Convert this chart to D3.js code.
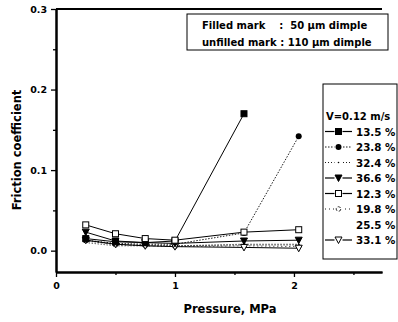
<!DOCTYPE html>
<html>
<head>
<meta charset="utf-8">
<script src="https://cdn.jsdelivr.net/npm/d3@7"></script>
<style>
  body { margin: 0; background: #fff; }
  svg { font-family: "DejaVu Sans", sans-serif; font-weight: bold; }
</style>
</head>
<body>
<div id="chart"></div>
<script>
// Pressure values (MPa)
var pressure = [0.25, 0.5, 0.75, 1.0, 1.58, 2.04];

// Friction coefficient per dimple density series
var s135 = [0.015, 0.011, 0.010, 0.012, 0.170];
var s238 = [0.013, 0.009, 0.008, 0.008, 0.022, 0.142];
var s324 = [0.012, 0.008, 0.007, 0.006, 0.008, 0.008];
var s366 = [0.023, 0.012, 0.010, 0.009, 0.012, 0.013];
var s123 = [0.032, 0.021, 0.015, 0.013, 0.023, 0.026];
var s198 = [0.013, 0.007, 0.006, 0.005, 0.006, 0.005];
var s255 = [0.010, 0.006, 0.006, 0.006, 0.007, 0.007];
var s331 = [0.013, 0.008, 0.006, 0.005, 0.004, 0.003];

var seriesNames = ["13.5 %", "23.8 %", "32.4 %", "36.6 %", "12.3 %", "19.8 %", "25.5 %", "33.1 %"];
var seriesValues = [s135, s238, s324, s366, s123, s198, s255, s331];

var xTicks = [0, 1, 2];
var yTicks = [0.0, 0.1, 0.2, 0.3];

// styles: marker type, dash
var styles = [
  {m: "sq", fill: true,  dash: null},
  {m: "ci", fill: true,  dash: "1.5,1.5"},
  {m: "dot", fill: true, dash: "1,2"},
  {m: "tri", fill: true, dash: null},
  {m: "sq", fill: false, dash: null},
  {m: "oc", fill: false, dash: "1,3"},
  {m: "none", fill: false, dash: "1,2"},
  {m: "tri", fill: false, dash: null}
];

var width = 398, height = 322;

var svg = d3.select("#chart").append("svg")
    .attr("width", width)
    .attr("height", height);

var x = d3.scaleLinear().domain([0, 2.74]).range([56, 382]);
var y = d3.scaleLinear().domain([-0.0265, 0.3]).range([272, 9]);

// axes
var xAxis = svg.append("g")
    .attr("transform", "translate(0," + y.range()[0] + ")")
    .call(d3.axisBottom(x).tickValues(xTicks).tickFormat(d3.format("d")).tickSize(5).tickSizeOuter(0));
svg.append("g")
    .attr("transform", "translate(0," + y.range()[0] + ")")
    .call(d3.axisBottom(x).tickValues([0.5, 1.5, 2.5]).tickFormat("").tickSize(3).tickSizeOuter(0));

var yAxis = svg.append("g")
    .attr("transform", "translate(" + x.range()[0] + ",0)")
    .call(d3.axisLeft(y).tickValues(yTicks).tickFormat(d3.format(".1f")).tickSize(5).tickSizeOuter(0));
svg.append("g")
    .attr("transform", "translate(" + x.range()[0] + ",0)")
    .call(d3.axisLeft(y).tickValues([0.05, 0.15, 0.25]).tickFormat("").tickSize(3).tickSizeOuter(0));

svg.selectAll(".domain").attr("stroke-width", 2);
svg.selectAll(".tick line").attr("stroke-width", 1.3);
xAxis.selectAll("text").attr("font-size", 9.5).attr("font-weight", "bold").attr("font-family", "DejaVu Sans").attr("dy", "0.9em");
yAxis.selectAll("text").attr("font-size", 9.5).attr("font-weight", "bold").attr("font-family", "DejaVu Sans").attr("dx", "-1px");

// top frame line
svg.append("line")
    .attr("x1", x.range()[0]).attr("x2", x.range()[1])
    .attr("y1", y.range()[1]).attr("y2", y.range()[1])
    .attr("stroke", "#000").attr("stroke-width", 2);

// axis titles
svg.append("text")
    .attr("x", 230).attr("y", 313)
    .attr("text-anchor", "middle")
    .attr("font-size", 11.5)
    .text("Pressure, MPa");
svg.append("text")
    .attr("transform", "translate(21,150) rotate(-90)")
    .attr("text-anchor", "middle")
    .attr("font-size", 11.5)
    .text("Friction coefficient");

// marker drawing
function drawMarker(g, st, cx, cy) {
  var fill = st.fill ? "#000" : "#fff";
  if (st.m == "sq") {
    g.append("rect").attr("x", cx - 3).attr("y", cy - 3).attr("width", 6).attr("height", 6)
      .attr("fill", fill).attr("stroke", "#000").attr("stroke-width", 1);
  } else if (st.m == "ci") {
    g.append("circle").attr("cx", cx).attr("cy", cy).attr("r", 3).attr("fill", "#000");
  } else if (st.m == "dot") {
    g.append("circle").attr("cx", cx).attr("cy", cy).attr("r", 0.8).attr("fill", "#000");
  } else if (st.m == "oc") {
    g.append("circle").attr("cx", cx).attr("cy", cy).attr("r", 2.3).attr("fill", "#fff")
      .attr("stroke", "#000").attr("stroke-width", 0.8).attr("stroke-dasharray", "3,1.5");
  } else if (st.m == "tri") {
    g.append("path").attr("d", "M" + (cx - 3.5) + "," + (cy - 3) + "L" + (cx + 3.5) + "," + (cy - 3) + "L" + cx + "," + (cy + 3.5) + "Z")
      .attr("fill", fill).attr("stroke", "#000").attr("stroke-width", 1);
  }
}

// series lines and markers
var line = d3.line()
    .x(function(d) { return x(d[0]); })
    .y(function(d) { return y(d[1]); });

var order = [6, 5, 2, 1, 7, 3, 0, 4];
order.forEach(function(i) {
  var st = styles[i];
  var pts = seriesValues[i].map(function(v, j) { return [pressure[j], v]; });
  var g = svg.append("g");
  g.append("path")
    .attr("d", line(pts))
    .attr("fill", "none")
    .attr("stroke", "#000")
    .attr("stroke-width", st.dash ? 0.9 : 1)
    .attr("stroke-dasharray", st.dash);
  pts.forEach(function(p) { drawMarker(g, st, x(p[0]), y(p[1])); });
});

// info box
var info = svg.append("g");
info.append("rect")
    .attr("x", 187).attr("y", 14).attr("width", 201).attr("height", 36)
    .attr("fill", "#fff").attr("stroke", "#000").attr("stroke-width", 1);
info.append("text").attr("x", 202).attr("y", 29).attr("font-size", 10)
    .attr("xml:space", "preserve").text("Filled mark    :  50 \u03bcm dimple");
info.append("text").attr("x", 202).attr("y", 45.5).attr("font-size", 10)
    .text("unfilled mark : 110 \u03bcm dimple");

// legend
var leg = svg.append("g");
leg.append("rect")
    .attr("x", 323).attr("y", 84).attr("width", 74).attr("height", 175)
    .attr("fill", "#fff").attr("stroke", "#000").attr("stroke-width", 1);
leg.append("text").attr("x", 326).attr("y", 120).attr("font-size", 10).text("V=0.12 m/s");
seriesNames.forEach(function(name, i) {
  var cy = 131.5 + i * 15.5;
  var st = styles[i];
  var gi = leg.append("g");
  if (st.m != "none") {
    gi.append("line").attr("x1", 325).attr("x2", 352).attr("y1", cy).attr("y2", cy)
      .attr("stroke", "#000").attr("stroke-width", st.dash ? 0.9 : 1.2)
      .attr("stroke-dasharray", st.dash);
    gi.append("rect").attr("x", 334.5).attr("y", cy - 4).attr("width", 8).attr("height", 8).attr("fill", "#fff");
    drawMarker(gi, st, 338.5, cy);
  }
  gi.append("text").attr("x", 356).attr("y", cy + 4).attr("font-size", 10.3).text(name);
});
</script>
</body>
</html>
